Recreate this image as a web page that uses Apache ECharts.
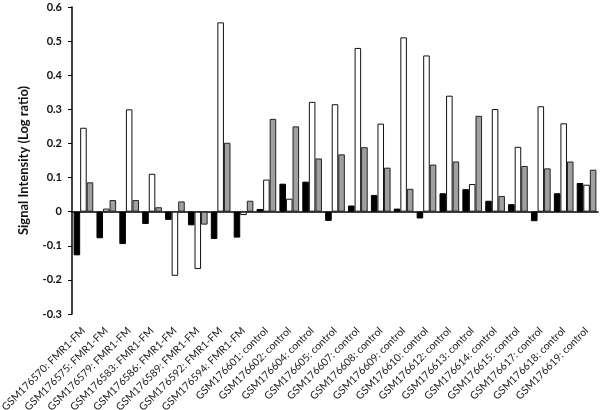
<!DOCTYPE html>
<html>
<head>
<meta charset="utf-8">
<script src="https://cdn.jsdelivr.net/npm/echarts@6/dist/echarts.min.js"></script>
<style>
  html, body { margin: 0; padding: 0; background: #fff; }
  #chart { width: 600px; height: 410px; }
</style>
</head>
<body>
<div id="chart"></div>
<script>
const samples = [
  'GSM176570: FMR1-FM', 'GSM176575: FMR1-FM', 'GSM176579: FMR1-FM', 'GSM176583: FMR1-FM',
  'GSM176586: FMR1-FM', 'GSM176589: FMR1-FM', 'GSM176592: FMR1-FM', 'GSM176594: FMR1-FM',
  'GSM176601: control', 'GSM176602: control', 'GSM176604: control', 'GSM176605: control',
  'GSM176607: control', 'GSM176608: control', 'GSM176609: control', 'GSM176610: control',
  'GSM176612: control', 'GSM176613: control', 'GSM176614: control', 'GSM176615: control',
  'GSM176617: control', 'GSM176618: control', 'GSM176619: control'
]
const blackVals = [-0.128, -0.078, -0.095, -0.036, -0.024, -0.040, -0.080, -0.076,
  0.008, 0.082, 0.088, -0.027, 0.018, 0.049, 0.009, -0.020,
  0.054, 0.066, 0.032, 0.022, -0.028, 0.054, 0.084]
const whiteVals = [0.246, 0.009, 0.300, 0.111, -0.188, -0.168, 0.555, -0.010,
  0.094, 0.038, 0.322, 0.315, 0.480, 0.258, 0.511, 0.458,
  0.340, 0.081, 0.301, 0.190, 0.309, 0.259, 0.079]
const grayVals = [0.086, 0.034, 0.034, 0.013, 0.030, -0.038, 0.202, 0.032,
  0.272, 0.250, 0.156, 0.168, 0.189, 0.129, 0.067, 0.138,
  0.147, 0.281, 0.046, 0.134, 0.127, 0.147, 0.123]

const chart = echarts.init(document.getElementById('chart'), null, { renderer: 'canvas' })

const bar = (data, fill, border) => ({
  type: 'bar', data, xAxisIndex: 0,
  barGap: '0%', barCategoryGap: '14%',
  itemStyle: { color: fill, borderColor: border, borderWidth: 1 },
  animation: false,
})

chart.setOption({
  backgroundColor: '#fff',
  textStyle: { fontFamily: 'Lato' },
  grid: { left: 72, right: 2, top: 7, bottom: 96, outerBoundsMode: 'none' },
  xAxis: [
    {
      type: 'category', data: samples, position: 'bottom',
      axisLine: { show: false, onZero: false }, axisTick: { show: false },
      axisLabel: { rotate: 45, interval: 0, fontSize: 10.5, color: '#222', margin: 15, fontFamily: 'Lato' },
    },
    {
      type: 'category', data: samples, position: 'top',
      axisLine: { onZero: true, lineStyle: { color: '#000', width: 1.5 } },
      axisTick: { inside: true, length: 4, lineStyle: { color: '#000', width: 1 } },
      axisLabel: { show: false },
    },
  ],
  yAxis: {
    type: 'value', min: -0.3, max: 0.6, interval: 0.1,
    name: 'Signal Intensity (Log ratio)', nameLocation: 'middle', nameGap: 42,
    nameTextStyle: { fontSize: 13, fontWeight: 'bold', color: '#111', fontFamily: 'Lato' },
    axisLine: { show: true, lineStyle: { color: '#000', width: 1.5 } },
    axisTick: { show: true, length: 4, lineStyle: { color: '#000' } },
    axisLabel: { fontSize: 11, fontWeight: 'bold', color: '#111', margin: 10, fontFamily: 'Lato' },
    splitLine: { show: false },
  },
  series: [
    bar(blackVals, '#000', '#000'),
    bar(whiteVals, '#fff', '#111'),
    bar(grayVals, '#a0a0a0', '#222'),
  ],
})
</script>
</body>
</html>
